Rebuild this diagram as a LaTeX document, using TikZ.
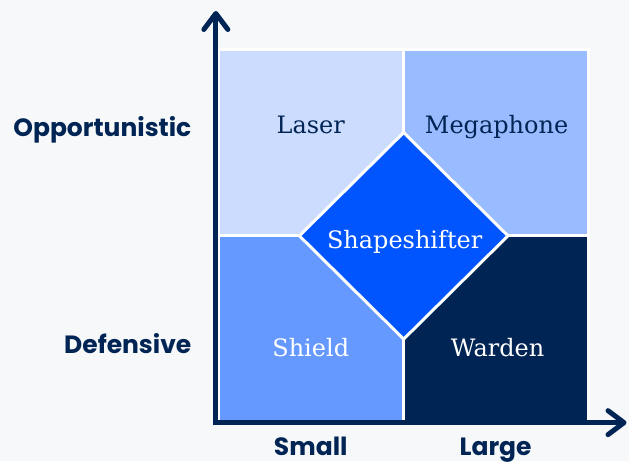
\documentclass[tikz,border=0pt]{standalone}
\usepackage{fontspec}
\setmainfont{DejaVu Serif}
\setsansfont{Poppins}
\usetikzlibrary{shapes,arrows.meta}
\definecolor{navy}{HTML}{002554}
\definecolor{pagebg}{HTML}{F7F8FA}
\definecolor{laserblue}{HTML}{CCDCFF}
\definecolor{megablue}{HTML}{99BBFF}
\definecolor{shieldblue}{HTML}{6699FF}
\definecolor{shiftblue}{HTML}{0055FF}

\begin{document}
\begin{tikzpicture}
[x=1pt, y=-1pt,
quad/.style ={rectangle, draw=white, line width=2.5pt,
minimum width=185pt, minimum height=186pt, inner sep=0pt},
qtext/.style ={anchor=base, font=\fontsize{24}{28}\selectfont},
axlabel/.style ={font=\sffamily\bfseries\fontsize{25}{29}\selectfont, text=navy},
axis/.style ={draw=navy, line width=5pt, line cap=rect,
-{Straight Barb[length=16pt, width=24pt, round]}}]

% page
\fill[pagebg] (0,0) rectangle (629,461);

% quadrants
\node (laserq) [quad, fill=laserblue] at (311.5,142.5) {};
\node (megaq) [quad, fill=megablue] at (496.5,142.5) {};
\node (shieldq) [quad, fill=shieldblue] at (311.5,328.5) {};
\node (wardenq) [quad, fill=navy] at (496.5,328.5) {};

% centre
\node (shifterq) [diamond, fill=shiftblue, draw=white, line width=3pt,
minimum width=210pt, minimum height=208pt, inner sep=0pt] at (404,236) {};

% texts of the quadrants
\node (laser) [qtext, text=navy] at (311,134) {Laser};
\node (mega) [qtext, text=navy] at (497,134) {Megaphone};
\node (shifter) [qtext, text=white] at (405,249) {Shapeshifter};
\node (shield) [qtext, text=white] at (311,357) {Shield};
\node (warden) [qtext, text=white] at (498,357) {Warden};

% axes
\coordinate (origin) at (216,423);
\coordinate (ytip) at (216,11);
\coordinate (xtip) at (627,423);
\draw[axis] (origin) -- (ytip);
\draw[axis] (origin) -- (xtip);

\node (opp) [axlabel, anchor=base east] at (195,137) {Opportunistic};
\node (def) [axlabel, anchor=base east] at (195,354) {Defensive};
\node (small) [axlabel, anchor=base] at (311,456) {Small};
\node (large) [axlabel, anchor=base] at (496,456) {Large};
\end{tikzpicture}
\end{document}
